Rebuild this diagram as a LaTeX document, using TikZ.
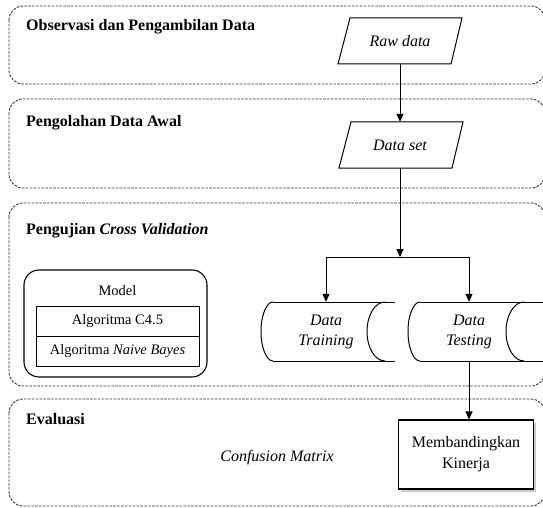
\documentclass[tikz,border=0pt]{standalone}
\usepackage{fontspec}
\setmainfont{Liberation Serif}
\usetikzlibrary{arrows.meta,shadows,calc}
\begin{document}
\begin{tikzpicture}[x=1pt,y=-1pt,
  panel/.style={draw=black!80, line width=0.9pt, dash pattern=on 2.6pt off 1.3pt, rounded corners=14pt},
  ptitle/.style={anchor=base west, font=\fontsize{16}{19}\selectfont\bfseries, inner sep=0pt},
  lbl/.style={font=\fontsize{16}{20}\selectfont\itshape, inner sep=0pt, align=center},
  shapeline/.style={draw=black, line width=1pt},
  arr/.style={draw=black, line width=1pt, -{Triangle[length=8pt,width=7pt]}},
  algbox/.style={draw=black, line width=1pt, minimum width=163pt, minimum height=30pt, inner sep=0pt, font=\fontsize{14.5}{17}\selectfont},
  cmpbox/.style={draw=black, line width=1.1pt, fill=white, minimum width=135pt, minimum height=69pt, inner sep=0pt, align=center, font=\fontsize{16}{21}\selectfont, drop shadow={shadow xshift=2.5pt, shadow yshift=-2.5pt, fill=black!35, opacity=0.6}}
]
\useasboundingbox (0,0) rectangle (543,508);
\clip (0,0) rectangle (543,508);

% panels
\draw[panel] (9,6) rectangle (545,84);
\draw[panel] (9,99) rectangle (545,188);
\draw[panel] (9,203) rectangle (545,386);
\draw[panel] (9,399) rectangle (545,506);

\node[ptitle] (t1) at (26,31) {Observasi dan Pengambilan Data};
\node[ptitle] (t2) at (26,126) {Pengolahan Data Awal};
\node[ptitle] (t3) at (26,234) {Pengujian \textit{Cross Validation}};
\node[ptitle] (t4) at (26,424) {Evaluasi};

% raw data
\draw[shapeline] (350,18) -- (462,18) -- (451,64) -- (338,64) -- cycle;
\node[lbl, minimum width=100pt, minimum height=46pt] (raw) at (400,41) {Raw data};
% data set
\draw[shapeline] (351,122) -- (463,122) -- (452,168) -- (339,168) -- cycle;
\node[lbl, minimum width=100pt, minimum height=46pt] (dataset) at (400,145) {Data set};

% data training
\draw[shapeline] (273,302) -- (395,302);
\draw[shapeline] (273,361) -- (395,361);
\draw[shapeline] (273,302) .. controls (266.4,302) and (261,315.2) .. (261,331.5) .. controls (261,347.8) and (266.4,361) .. (273,361);
\draw[shapeline] (385,302) .. controls (375,302) and (367,315.2) .. (367,331.5) .. controls (367,347.8) and (375,361) .. (385,361);
\node[lbl, minimum width=90pt, minimum height=59pt] (train) at (326,331.5) {Data\\Training};

% data testing
\draw[shapeline] (420,302) -- (548,302);
\draw[shapeline] (420,361) -- (548,361);
\draw[shapeline] (420,302) .. controls (413.4,302) and (408,315.2) .. (408,331.5) .. controls (408,347.8) and (413.4,361) .. (420,361);
\draw[shapeline] (524,302) .. controls (514,302) and (506,315.2) .. (506,331.5) .. controls (506,347.8) and (514,361) .. (524,361);
\node[lbl, minimum width=80pt, minimum height=59pt] (test) at (469,331.5) {Data\\Testing};

% model
\draw[line width=1.1pt, rounded corners=15pt] (24,270) rectangle (207,377);
\node[font=\fontsize{14.5}{17}\selectfont, inner sep=0pt] (modelt) at (117.5,291) {Model};
\node[algbox] (alg1) at (117.5,321) {Algoritma C4.5};
\node[algbox] (alg2) at (117.5,351) {Algoritma \textit{Naive Bayes}};

% evaluation
\node[lbl] (conf) at (277,458) {Confusion Matrix};
\node[cmpbox] (cmp) at (466,454.5) {Membandingkan\\Kinerja};

% connectors
\coordinate (split) at (400,257);
\draw[arr] (raw.south) -- (dataset.north);
\draw[arr] (dataset.south) -- (split);
\draw[arr] (split) -| (train.north);
\draw[arr] (split) -| (test.north);
\draw[arr] (test.south) -- (test.south |- cmp.north);
\end{tikzpicture}
\end{document}
